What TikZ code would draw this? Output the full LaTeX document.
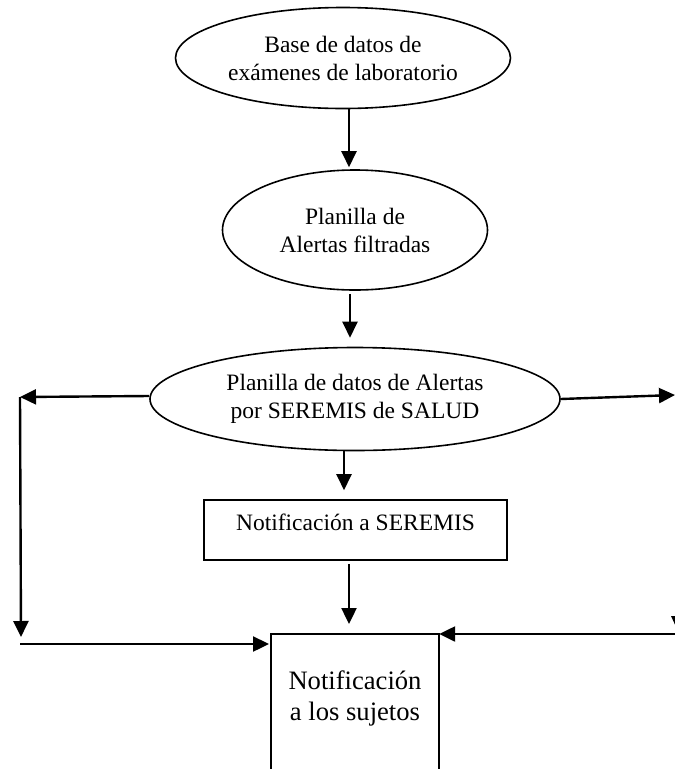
\documentclass[tikz,border=0pt]{standalone}
\usepackage{fontspec}
\setmainfont{Liberation Serif}
\usetikzlibrary{shapes.geometric,arrows.meta}
\tikzset{
  txt/.style={font=\fontsize{23.5}{28}\selectfont, align=center},
  bigtxt/.style={font=\fontsize{26.6}{31}\selectfont, align=center},
  oval/.style={ellipse, draw, line width=1.6pt, inner sep=0pt, txt},
  boxed/.style={rectangle, draw, line width=1.6pt, inner sep=0pt, txt},
  arr/.style={line width=2.4pt, -{Triangle[length=16pt,width=15pt]}},
  edge line/.style={line width=1.8pt}
}
\begin{document}
\begin{tikzpicture}[x=1pt,y=-1pt]
\clip (0,0) rectangle (675,769);
\fill[white] (0,0) rectangle (675,769);

\node[oval, minimum width=335pt, minimum height=101pt] (e1) at (343,58)
  {Base de datos de\\exámenes de laboratorio};
\node[oval, minimum width=265pt, minimum height=120pt] (e2) at (355,230)
  {Planilla de\\Alertas filtradas};
\node[oval, minimum width=410pt, minimum height=103pt] (e3) at (355,399)
  {Planilla de datos de Alertas\\por SEREMIS de SALUD};
\node[boxed, minimum width=303pt, text height=30pt, text depth=30pt] (b2) at (355.5,530)
  {Notificación a SEREMIS};
\node[bigtxt, draw=none, minimum width=168pt, minimum height=128pt, anchor=north] (b3) at (355,634)
  {Notificación\\a los sujetos};
\draw[edge line] ([yshift=-30pt]b3.south west) -- (b3.north west) -- (b3.north east) -- ([yshift=-30pt]b3.south east);

\coordinate (L1) at (20,397);
\coordinate (L2) at (21,637);
\coordinate (L3) at (20,644);
\coordinate (L4) at (269,644);
\coordinate (R1) at (675,395);
\coordinate (R2) at (675,634);

\draw[arr] ([xshift=6pt]e1.south) -- ([xshift=-6pt,yshift=2pt]e2.north);
\draw[arr] ([xshift=-5pt,yshift=-3pt]e2.south) -- ([xshift=-5pt,yshift=9pt]e3.north);
\draw[arr] ([xshift=-11pt]e3.south) -- ([xshift=-11.5pt,yshift=9pt]b2.north);
\draw[arr] ([xshift=-6.5pt,yshift=-3pt]b2.south) -- ([xshift=-6pt,yshift=10pt]b3.north);

\draw[arr] ([yshift=3pt]e3.west) -- (L1);
\draw[arr] (L1) -- (L2);
\draw[arr] (L3) -- (L4);
\draw[arr] (e3.east) -- (R1);
\draw[arr] (R2) -- (b3.north east);
\fill (671,616) -- (683,616) -- (677,629) -- cycle;
\end{tikzpicture}
\end{document}
